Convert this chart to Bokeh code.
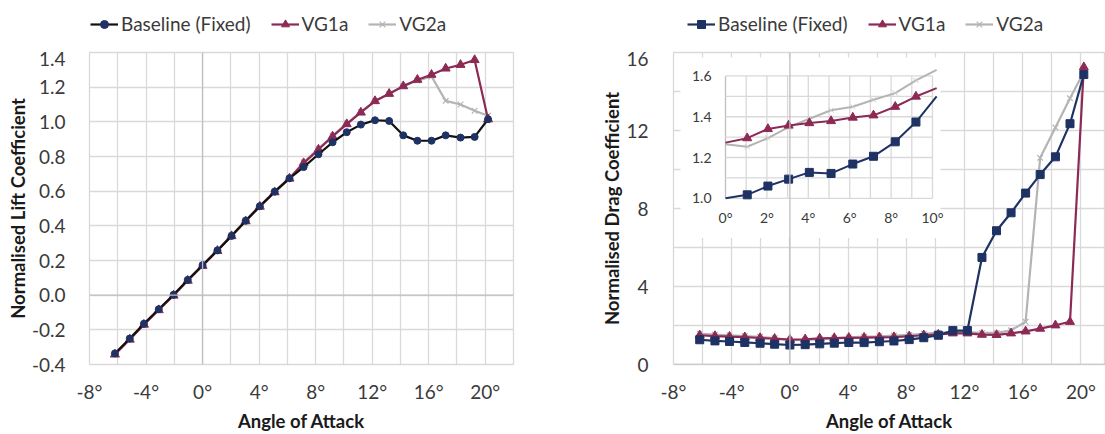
from bokeh.plotting import figure
from bokeh.layouts import row, column
from bokeh.models import (FixedTicker, PrintfTickFormatter, Legend, LegendItem,
                          Span, ColumnDataSource, Range1d)
from bokeh.core.properties import value
from bokeh.embed import file_html
from bokeh.resources import INLINE

# ---- data ---------------------------------------------------------------
angles = [-6.2, -5.15, -4.15, -3.1, -2.05, -1.05, 0.0, 1.05, 2.05, 3.05, 4.05,
          5.1, 6.15, 7.15, 8.2, 9.2, 10.2, 11.2, 12.2, 13.2, 14.2, 15.2, 16.2,
          17.2, 18.25, 19.25, 20.2]

lift_baseline = [-0.336, -0.250, -0.165, -0.081, 0.002, 0.088, 0.173, 0.258,
                 0.342, 0.429, 0.513, 0.597, 0.674, 0.739, 0.813, 0.882, 0.940,
                 0.984, 1.009, 1.005, 0.922, 0.891, 0.891, 0.922, 0.909, 0.913,
                 1.015]
lift_vg1a = [-0.342, -0.256, -0.170, -0.086, -0.002, 0.084, 0.170, 0.256,
             0.341, 0.427, 0.511, 0.594, 0.673, 0.762, 0.840, 0.916, 0.987,
             1.054, 1.120, 1.162, 1.206, 1.243, 1.272, 1.308, 1.329, 1.357,
             1.015]
lift_vg2a = [-0.337, -0.251, -0.165, -0.081, 0.003, 0.089, 0.175, 0.261,
             0.346, 0.432, 0.516, 0.599, 0.678, 0.766, 0.845, 0.920, 0.990,
             1.057, 1.120, 1.160, 1.205, 1.238, 1.262, 1.121, 1.100, 1.064,
             1.035]

drag_baseline = [1.27, 1.21, 1.18, 1.13, 1.09, 1.04, 1.00, 1.017, 1.060,
                 1.094, 1.127, 1.122, 1.168, 1.206, 1.277, 1.374, 1.50, 1.74,
                 1.74, 5.49, 6.86, 7.78, 8.79, 9.74, 10.65, 12.35, 14.87]
drag_vg1a = [1.50, 1.46, 1.43, 1.40, 1.36, 1.32, 1.273, 1.295, 1.340, 1.357,
             1.369, 1.379, 1.396, 1.407, 1.449, 1.499, 1.54, 1.60, 1.60, 1.53,
             1.52, 1.60, 1.70, 1.84, 2.01, 2.19, 15.25]
drag_vg2a = [1.58, 1.53, 1.50, 1.46, 1.42, 1.35, 1.265, 1.253, 1.295, 1.349,
             1.390, 1.432, 1.449, 1.483, 1.516, 1.578, 1.63, 1.66, 1.66, 1.62,
             1.62, 1.75, 2.19, 10.60, 12.15, 13.65, 15.00]

series_names = ["Baseline (Fixed)", "VG1a", "VG2a"]

aoa_labels = [-8, -4, 0, 4, 8, 12, 16, 20]
aoa_grid = list(range(-8, 23, 2))
lift_ticks = [-0.4, -0.2, 0.0, 0.2, 0.4, 0.6, 0.8, 1.0, 1.2, 1.4]
drag_labels = [0, 4, 8, 12, 16]
drag_grid = [0, 2, 4, 6, 8, 10, 12, 14, 16]

# zoomed view of the low-angle drag values
inset_x = (0, 10)
inset_y = (1.0, 1.6)
inset_x_labels = [0, 2, 4, 6, 8, 10]
inset_x_grid = list(range(0, 11))
inset_y_labels = [1.0, 1.2, 1.4, 1.6]
inset_y_grid = [1.0, 1.1, 1.2, 1.3, 1.4, 1.5, 1.6]

# ---- styling --------------------------------------------------------------
FONT = "Lato"
TEXT = "#3a3a3a"
GRID = "#d9d9d9"
AXIS0 = "#bfbfbf"
NAVY = "#1f3264"
MAROON = "#8c2a55"
GREY = "#b4b4b4"
LIFT_BASE_LINE = "#111111"

STRIP_H = 51
CHART_H = 434 - STRIP_H


def style(p, xlabels, xgrid, ylabels, ygrid, xfmt, yfmt, xtitle, ytitle):
    p.xaxis.ticker = FixedTicker(ticks=xlabels)
    p.yaxis.ticker = FixedTicker(ticks=ylabels)
    p.xgrid.ticker = FixedTicker(ticks=xgrid)
    p.ygrid.ticker = FixedTicker(ticks=ygrid)
    p.xaxis.formatter = PrintfTickFormatter(format=xfmt)
    p.yaxis.formatter = PrintfTickFormatter(format=yfmt)
    for ax in (p.xaxis, p.yaxis):
        ax.axis_line_color = None
        ax.major_tick_line_color = None
        ax.minor_tick_line_color = None
        ax.major_label_text_font = FONT
        ax.major_label_text_font_size = "19px"
        ax.major_label_text_color = TEXT
        ax.axis_label_text_font = FONT
        ax.axis_label_text_font_style = "bold"
        ax.axis_label_text_font_size = "18.5px"
        ax.axis_label_text_color = "#1a1a1a"
    for g in (p.xgrid, p.ygrid):
        g.grid_line_color = GRID
        g.grid_line_width = 1.3
    p.outline_line_color = GRID
    p.outline_line_width = 1.3
    p.background_fill_color = "white"
    p.border_fill_color = "white"
    p.xaxis.axis_label = xtitle
    p.yaxis.axis_label = ytitle
    p.xaxis.major_label_standoff = 9
    p.xaxis.axis_label_standoff = 4
    p.add_layout(Span(location=0, dimension="height", line_color=AXIS0, line_width=1.3))
    p.add_layout(Span(location=0, dimension="width", line_color=AXIS0, line_width=1.3))


def legend_strip(width, x, columns, base_color, base_marker, base_size):
    """A slim figure above a chart that carries only its legend; the series
    are plotted far outside its ranges so only the legend keys show.
    Its frame lines up with the chart frame below it."""
    f = figure(width=width, height=STRIP_H, x_range=(1000, 1001),
               y_range=(1000, 1001), x_axis_type=None, y_axis_type=None,
               output_backend="svg", toolbar_location=None, title=None,
               min_border_left=0, min_border_right=0, min_border_top=0,
               min_border_bottom=0, outline_line_color=None,
               background_fill_color="white", border_fill_color="white")
    styles = [
        (dict(line_color=base_color, line_width=2.2),
         dict(marker=base_marker, size=base_size, fill_color=NAVY, line_color=NAVY)),
        (dict(line_color=MAROON, line_width=2.2),
         dict(marker="triangle", size=9, fill_color=MAROON, line_color=MAROON)),
        (dict(line_color=GREY, line_width=2.2),
         dict(marker="x", size=8, line_color=GREY, line_width=1.2)),
    ]
    items = []
    for name, col, (lkw, mkw) in zip(series_names, columns, styles):
        lr = f.line("a", col, source=src, **lkw)
        mr = f.scatter("a", col, source=src, **mkw)
        items.append(LegendItem(label=name, renderers=[lr, mr]))
    f.add_layout(Legend(items=items, orientation="horizontal", location=(x, 16),
                        glyph_width=28, glyph_height=20, label_height=20,
                        label_standoff=3, spacing=20, padding=0, margin=0,
                        label_text_font=FONT, label_text_font_size="19px",
                        label_text_color=TEXT, border_line_color=None,
                        background_fill_alpha=0))
    return f


src = ColumnDataSource(dict(a=angles, lb=lift_baseline, l1=lift_vg1a,
                            l2=lift_vg2a, db=drag_baseline, d1=drag_vg1a,
                            d2=drag_vg2a))

# ---- lift coefficient -------------------------------------------------------
p1 = figure(width=545, height=CHART_H, x_range=(-8, 22), y_range=(-0.4, 1.4),
            output_backend="svg", toolbar_location=None, title=None,
            min_border_left=89, min_border_right=32, min_border_top=1,
            min_border_bottom=69)
style(p1, aoa_labels, aoa_grid, lift_ticks, lift_ticks, "%d°", "%.1f",
      "Angle of Attack", "Normalised Lift Coefficient")
p1.yaxis.major_label_standoff = 18
p1.yaxis.axis_label_standoff = 0

p1.line("a", "l2", source=src, line_color=GREY, line_width=2.2)
p1.scatter("a", "l2", source=src, marker="x", size=8, line_color=GREY, line_width=1.2)
p1.line("a", "l1", source=src, line_color=MAROON, line_width=2.2)
p1.scatter("a", "l1", source=src, marker="triangle", size=9,
           fill_color=MAROON, line_color=MAROON)
p1.line("a", "lb", source=src, line_color=LIFT_BASE_LINE, line_width=2.2)
p1.scatter("a", "lb", source=src, marker="circle", size=7,
           fill_color=NAVY, line_color=NAVY)
leg1 = legend_strip(545, 1, ["lb", "l1", "l2"], LIFT_BASE_LINE, "circle", 7)

# ---- drag coefficient -------------------------------------------------------
p2 = figure(width=560, height=CHART_H, x_range=(-8, 21.69), y_range=(0, 16),
            output_backend="svg", toolbar_location=None, title=None,
            min_border_left=128, min_border_right=0, min_border_top=1,
            min_border_bottom=69)
style(p2, aoa_labels, aoa_grid, drag_labels, drag_grid, "%d°", "%d",
      "Angle of Attack", "Normalised Drag Coefficient")
p2.yaxis.major_label_standoff = 19
p2.yaxis.axis_label_standoff = 0

p2.line("a", "d2", source=src, line_color=GREY, line_width=2.2)
p2.scatter("a", "d2", source=src, marker="x", size=8, line_color=GREY, line_width=1.2)
p2.line("a", "d1", source=src, line_color=MAROON, line_width=2.2)
p2.scatter("a", "d1", source=src, marker="triangle", size=9,
           fill_color=MAROON, line_color=MAROON)
p2.line("a", "db", source=src, line_color=NAVY, line_width=2.2)
p2.scatter("a", "db", source=src, marker="square", size=8,
           fill_color=NAVY, line_color=NAVY)
leg2 = legend_strip(560, 14, ["db", "d1", "d2"], NAVY, "square", 8)

# ---- inset, drawn on its own pair of ranges inside the drag frame -----------
# frame spans 432 x 306 px; the inset box sits at 52..259 px across, 23..143 px down
ix_scale = (inset_x[1] - inset_x[0]) / 207.0
iy_scale = (inset_y[1] - inset_y[0]) / 120.0
p2.extra_x_ranges = {"ix": Range1d(inset_x[0] - 52 * ix_scale,
                                   inset_x[0] + (432 - 52) * ix_scale)}
p2.extra_y_ranges = {"iy": Range1d(inset_y[0] - (306 - 143) * iy_scale,
                                   inset_y[1] + 23 * iy_scale)}
ik = dict(x_range_name="ix", y_range_name="iy")

# white panel behind the inset (frame plus room for its tick labels)
p2.quad(left=inset_x[0] - 45 * ix_scale, right=inset_x[1] + 8 * ix_scale,
        bottom=inset_y[0] - 39 * iy_scale, top=inset_y[1] + 18 * iy_scale,
        fill_color="white", line_color=None, **ik)
p2.segment(x0=inset_x_grid, y0=[inset_y[0]] * len(inset_x_grid),
           x1=inset_x_grid, y1=[inset_y[1]] * len(inset_x_grid),
           line_color=[AXIS0 if v == 0 else GRID for v in inset_x_grid],
           line_width=1.3, **ik)
p2.segment(x0=[inset_x[0]] * len(inset_y_grid), y0=inset_y_grid,
           x1=[inset_x[1]] * len(inset_y_grid), y1=inset_y_grid,
           line_color=GRID, line_width=1.3, **ik)
p2.text(x=inset_x_labels, y=[inset_y[0]] * len(inset_x_labels),
        text=["%d°" % v for v in inset_x_labels], text_font=value(FONT),
        text_font_size="14px", text_color=TEXT, text_align="center",
        text_baseline="middle", y_offset=19, **ik)
p2.text(x=[inset_x[0]] * len(inset_y_labels), y=inset_y_labels,
        text=["%.1f" % v for v in inset_y_labels], text_font=value(FONT),
        text_font_size="14px", text_color=TEXT, text_align="right",
        text_baseline="middle", x_offset=-14, **ik)

# the low-angle readings shown in the inset
in_range = [i for i, a in enumerate(angles) if inset_x[0] <= a <= inset_x[1] + 0.2]
in_marks = [i for i, a in enumerate(angles) if inset_x[0] < a <= inset_x[1]]


def subset(idx):
    return ColumnDataSource({k: [v[i] for i in idx] for k, v in src.data.items()})


lsrc = subset(in_range)
msrc = subset(in_marks)
p2.line("a", "d2", source=lsrc, line_color=GREY, line_width=2, **ik)
p2.scatter("a", "d2", source=msrc, marker="x", size=7,
           line_color="#c8c8c8", line_width=1, **ik)
p2.line("a", "d1", source=lsrc, line_color=MAROON, line_width=2, **ik)
p2.scatter("a", "d1", source=msrc, marker="triangle", size=9,
           fill_color=MAROON, line_color=MAROON, **ik)
p2.line("a", "db", source=lsrc, line_color=NAVY, line_width=2, **ik)
p2.scatter("a", "db", source=msrc, marker="square", size=8,
           fill_color=NAVY, line_color=NAVY, **ik)

root = row(column(leg1, p1), column(leg2, p2))
open("out.html", "w").write(file_html(root, INLINE))
